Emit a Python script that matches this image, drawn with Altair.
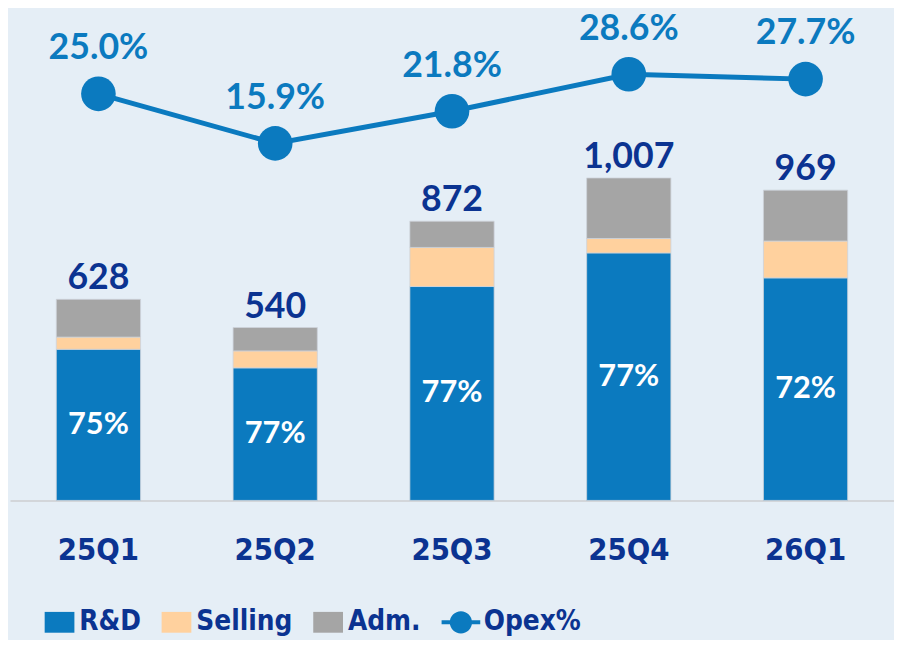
import altair as alt
import pandas as pd

quarters = ["25Q1", "25Q2", "25Q3", "25Q4", "26Q1"]
rd = [472, 414, 668, 773, 695]
selling = [38, 53, 122, 45, 115]
adm = [118, 73, 82, 189, 159]
totals = [628, 540, 872, 1007, 969]
rd_share = ["75%", "77%", "77%", "77%", "72%"]
opex_pct = [25.0, 15.9, 21.8, 28.6, 27.7]
bar_series = ["R&D", "Selling", "Adm."]
bar_colors = ["#0B7ABF", "#FFD19E", "#A5A5A5"]
line_series = "Opex%"

NAVY = "#0B3391"
BLUE = "#0B7ABF"
BG = "#E5EEF6"
NUM_FONT = "Lato"
LBL_FONT = "DejaVu Sans Condensed, Roboto Condensed, Liberation Sans Narrow, Roboto, sans-serif"

rows = []
for i, q in enumerate(quarters):
    for k, (name, vals) in enumerate(zip(bar_series, [rd, selling, adm])):
        rows.append({"quarter": q, "series": name, "value": vals[i], "order": k})
stack_df = pd.DataFrame(rows)

q_df = pd.DataFrame({
    "quarter": quarters,
    "total": totals,
    "total_label": [f"{v:,}" for v in totals],
    "rd": rd,
    "rd_share": rd_share,
    "opex": opex_pct,
    "opex_label": [f"{v:.1f}%" for v in opex_pct],
    "line_series": [line_series] * len(quarters),
})

x_enc = alt.X(
    "quarter:N", sort=quarters,
    scale=alt.Scale(paddingInner=0.5235, paddingOuter=0.262),
    axis=alt.Axis(title=None, labelAngle=0, ticks=False, grid=False,
                  domainColor="#D3D6DA", domainWidth=2,
                  labelFont=LBL_FONT, labelFontSize=31, labelFontWeight="bold",
                  labelColor=NAVY, labelPadding=51, labelBaseline="middle"),
)

bar_scale = alt.Scale(domain=[0, 1529], nice=False, zero=True)
line_scale = alt.Scale(domain=[-49.66, 40.24], nice=False, zero=False)

rect_path = "M-1,-0.7H1V0.7H-1Z"
opex_path = ("M-1.3,-0.13H1.3V0.13H-1.3Z "
             "M0.75,0A0.75,0.75 0 1 1 -0.75,0A0.75,0.75 0 1 1 0.75,0Z")

bar_legend = alt.Legend(
    title=None, orient="none", legendX=35, legendY=602,
    direction="horizontal", columns=3, symbolSize=900, symbolType=rect_path,
    labelFont=LBL_FONT, labelFontSize=28, labelFontWeight="bold",
    labelColor=NAVY, labelOffset=5, columnPadding=20, padding=0,
    symbolStrokeWidth=0, symbolOpacity=1,
)

line_legend = alt.Legend(
    title=None, orient="none", legendX=440, legendY=602,
    direction="horizontal", symbolSize=900, symbolType=opex_path,
    labelFont=LBL_FONT, labelFontSize=28, labelFontWeight="bold",
    labelColor=NAVY, labelOffset=8, padding=0,
    symbolFillColor=BLUE, symbolStrokeWidth=0,
)

bars = alt.Chart(stack_df).mark_bar(stroke="#CDD3DA", strokeWidth=0.8).encode(
    x=x_enc,
    y=alt.Y("value:Q", stack="zero", scale=bar_scale, axis=None),
    color=alt.Color("series:N", scale=alt.Scale(domain=bar_series, range=bar_colors), legend=bar_legend),
    order=alt.Order("order:Q"),
)

base_q = alt.Chart(q_df)

total_text = base_q.mark_text(
    font=NUM_FONT, fontSize=36, fontWeight="bold", color=NAVY,
    baseline="alphabetic", dy=-10,
).encode(
    x=alt.X("quarter:N", sort=quarters),
    y=alt.Y("total:Q", scale=bar_scale, axis=None),
    text="total_label:N",
)

share_text = base_q.transform_calculate(mid="datum.rd / 2").mark_text(
    font=NUM_FONT, fontSize=31, fontWeight="bold", color="white", baseline="middle",
).encode(
    x=alt.X("quarter:N", sort=quarters),
    y=alt.Y("mid:Q", scale=bar_scale, axis=None),
    text="rd_share:N",
)

line = base_q.mark_line(color=BLUE, strokeWidth=5).encode(
    x=alt.X("quarter:N", sort=quarters),
    y=alt.Y("opex:Q", scale=line_scale, axis=None),
)

points = base_q.mark_point(filled=True, size=1220, color=BLUE, shape="circle").encode(
    x=alt.X("quarter:N", sort=quarters),
    y=alt.Y("opex:Q", scale=line_scale, axis=None),
    opacity=alt.Opacity("line_series:N", scale=alt.Scale(domain=[line_series], range=[1]),
                        legend=line_legend),
)

opex_text = base_q.mark_text(
    font=NUM_FONT, fontSize=36, fontWeight="bold", color=BLUE,
    baseline="alphabetic", dy=-35,
).encode(
    x=alt.X("quarter:N", sort=quarters),
    y=alt.Y("opex:Q", scale=line_scale, axis=None),
    text="opex_label:N",
)

chart = alt.layer(bars, total_text, share_text, line, points, opex_text).resolve_scale(
    y="independent"
).properties(
    width=892, height=494,
    background=BG,
    padding={"left": 2, "top": 0, "right": 0, "bottom": 138},
    autosize=alt.AutoSizeParams(type="none"),
).configure_view(stroke=None)

chart.save("out.html", embed_options={"renderer": "svg", "actions": False})
